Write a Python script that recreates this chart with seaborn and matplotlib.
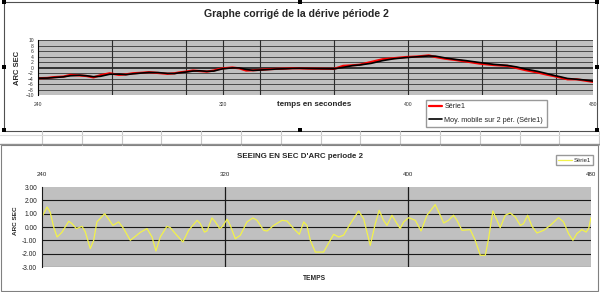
import matplotlib
matplotlib.use("Agg")
import matplotlib.pyplot as plt
from matplotlib.patches import Rectangle
from matplotlib.lines import Line2D
import numpy as np
import pandas as pd
import seaborn as sns

# derive corrigee (periode 2)
t_drift = [240, 244, 247, 251, 254, 258, 261, 264, 267, 271, 275, 278, 281, 285,
           288, 292, 296, 299, 301, 304, 307, 310, 313, 316, 318, 320, 324, 327,
           330, 333, 336, 340, 343, 347, 350, 353, 357, 362, 368, 372, 376, 379,
           384, 389, 394, 399, 404, 409, 412, 416, 420, 425, 431, 437, 443, 447,
           451, 456, 460, 463, 466, 469, 473, 476, 480]
v_drift = [-3.9, -3.8, -3.5, -3.3, -2.7, -2.9, -3.1, -3.6, -2.8, -2.1, -2.7, -2.5,
           -2.1, -1.9, -1.7, -2.0, -2.3, -2.1, -1.8, -1.5, -1.1, -1.3, -1.5, -1.1,
           -0.6, -0.3, 0.0, -0.3, -1.1, -1.0, -0.85, -0.6, -0.5, -0.4, -0.25, -0.3,
           -0.4, -0.45, -0.5, 0.6, 0.8, 1.0, 2.0, 3.0, 3.4, 3.8, 4.0, 4.4, 3.8, 3.2,
           2.8, 2.2, 1.4, 0.9, 0.6, -0.2, -1.0, -1.8, -2.6, -3.1, -3.7, -4.3, -4.3,
           -4.7, -5.2]

# seeing (periode 2)
t_seeing = [240.0, 242.2, 243.6, 245.1, 246.6, 248.7, 251.7, 253.1, 255.0, 257.5,
            258.9, 261.1, 262.6, 264.0, 267.4, 269.1, 271.0, 273.5, 275.7, 278.6,
            283.0, 285.9, 288.1, 289.8, 291.7, 294.6, 296.1, 298.3, 301.6, 304.1,
            307.8, 309.2, 311.0, 312.1, 314.3, 315.8, 317.7, 318.7, 320.9, 322.3,
            324.5, 326.7, 329.6, 332.2, 334.0, 336.9, 338.4, 341.3, 344.9, 347.1,
            350.0, 352.5, 354.4, 355.8, 357.3, 359.5, 363.1, 366.0, 367.5, 369.7,
            371.8, 374.8, 378.4, 380.6, 383.5, 385.7, 387.4, 389.3, 390.8, 393.0,
            395.2, 396.6, 398.1, 400.3, 403.2, 405.7, 408.3, 411.9, 414.1, 415.6,
            417.7, 419.9, 421.4, 423.6, 427.2, 429.4, 431.6, 433.8, 435.2, 437.1,
            438.9, 440.3, 442.5, 444.7, 446.9, 449.1, 450.5, 452.3, 454.2, 456.4,
            459.3, 462.2, 465.8, 468.0, 470.2, 472.1, 473.8, 476.0, 477.9, 479.0,
            480.0]
v_seeing = [0.75, 1.5, 1.1, 0.0, -0.75, -0.4, 0.43, 0.25, -0.12, 0.05,
            -0.35, -1.62, -1.0, 0.38, 1.0, 0.6, 0.12, 0.38, -0.12, -1.0,
            -0.4, -0.12, -0.75, -1.8, -0.75, 0.05, -0.05, -0.5, -1.12, -0.25,
            0.5, 0.25, -0.38, -0.3, 0.68, 0.38, -0.12, 0.0, 0.58, 0.12,
            -0.88, -0.62, 0.38, 0.68, 0.5, -0.25, -0.3, 0.12, 0.5, 0.45,
            -0.12, -0.55, 0.38, 0.12, -1.0, -1.88, -1.88, -1.0, -0.55, -0.75,
            -0.62, 0.25, 1.2, 0.62, -1.38, 0.25, 1.25, 0.5, 0.12, 0.88,
            0.25, -0.12, 0.38, 0.7, 0.5, -0.3, 0.88, 1.68, 0.88, 0.3,
            0.5, 0.88, 0.5, -0.25, -0.2, -1.0, -2.12, -2.12, -0.88, 1.2,
            0.5, -0.05, 0.88, 1.05, 0.75, 0.12, 0.25, 0.88, 0.05, -0.45,
            -0.25, 0.12, 0.7, 0.38, -0.5, -1.0, -0.5, -0.2, -0.38, -0.1,
            0.7]

drift_xticks = [240, 320, 400, 480]
drift_vlines = [272, 304, 320, 336, 368, 400, 432, 464]
seeing_xticks = [240, 320, 400, 480]
seeing_vlines = [320, 400]

drift = pd.DataFrame({"t": t_drift, "v": v_drift})
drift["ma"] = drift["v"].rolling(2, min_periods=1).mean()
seeing = pd.DataFrame({"t": t_seeing, "v": v_seeing})

sns.set_style("white")
plt.rcParams["font.family"] = ["Liberation Sans", "DejaVu Sans"]

W, H = 600, 292
fig = plt.figure(figsize=(6, 2.92), dpi=100)


def box(x0, y0, x1, y1):
    return [x0 / W, 1 - y1 / H, (x1 - x0) / W, (y1 - y0) / H]


# spreadsheet cells between the two charts
for k in range(16):
    xc = (42 + 39.8 * k) / W
    fig.add_artist(Line2D([xc, xc], [1 - 145 / H, 1 - 131 / H], color="#c8c8c8", lw=0.8))
fig.add_artist(Line2D([0, 1], [1 - 134.5 / H] * 2, color="#dadada", lw=0.8))
fig.add_artist(Line2D([0, 1], [1 - 144 / H] * 2, color="#909090", lw=1.0))

# chart frames
b = box(4, 2, 597, 131)
fig.add_artist(Rectangle((b[0], b[1]), b[2], b[3], transform=fig.transFigure,
                         facecolor="white", edgecolor="#505050", lw=0.8, zorder=0))
b = box(1, 145, 598, 291)
fig.add_artist(Rectangle((b[0], b[1]), b[2], b[3], transform=fig.transFigure,
                         facecolor="white", edgecolor="#808080", lw=0.8, zorder=0))

# ---- top chart ----
ax1 = fig.add_axes(box(38, 40, 593, 95))
ax1.set_facecolor("#c0c0c0")
sns.lineplot(data=drift, x="t", y="v", ax=ax1, color="red", lw=1.6, label="Série1")
sns.lineplot(data=drift, x="t", y="ma", ax=ax1, color="black", lw=1.2,
             label="Moy. mobile sur 2 pér. (Série1)")
h1, l1 = ax1.get_legend_handles_labels()
if ax1.get_legend():
    ax1.get_legend().remove()
ax1.set_xlim(240, 480)
ax1.set_ylim(-10, 10)
for yv in range(-10, 11, 2):
    ax1.axhline(yv, color="#1a1a1a", lw=1.2 if yv == 0 else 0.5, zorder=1)
for xv in drift_vlines:
    ax1.axvline(xv, color="#2a2a2a", lw=0.8, zorder=1)
ax1.set_yticks(range(-10, 11, 2))
ax1.set_xticks(drift_xticks)
ax1.tick_params(axis="y", labelsize=3.6, length=2, width=0.5, pad=1, colors="#333333")
ax1.tick_params(axis="x", labelsize=3.6, length=0, pad=5, colors="#333333")
ax1.set_xlabel("")
ax1.set_ylabel("")
for s in ["top", "right", "bottom"]:
    ax1.spines[s].set_visible(False)
ax1.spines["left"].set_color("black")
ax1.spines["left"].set_linewidth(0.8)

fig.text(296 / W, 1 - 14 / H, "Graphe corrigé de la dérive période 2",
         ha="center", va="center", fontsize=7.6, fontweight="bold")
fig.text(314 / W, 1 - 105 / H, "temps en secondes", ha="center", va="center",
         fontsize=5.8, fontweight="bold")
fig.text(17.5 / W, 1 - 68 / H, "ARC SEC", ha="center", va="center", rotation=90,
         fontsize=5.5, fontweight="bold")
fig.legend(h1, l1, loc="upper left", bbox_to_anchor=(422 / W, 1 - 96 / H),
           fontsize=5.2, frameon=True, fancybox=False, edgecolor="#808080",
           handlelength=1.8, labelspacing=0.9, borderpad=0.5, handletextpad=0.3)

# ---- bottom chart ----
ax2 = fig.add_axes(box(42, 187, 591, 267))
ax2.set_facecolor("#c0c0c0")
sns.lineplot(data=seeing, x="t", y="v", ax=ax2, color="#f2f24a", lw=0.9, label="Série1")
h2, l2 = ax2.get_legend_handles_labels()
if ax2.get_legend():
    ax2.get_legend().remove()
ax2.set_xlim(240, 480)
ax2.set_ylim(-3, 3)
for yv in range(-3, 3):
    ax2.axhline(yv, color="#1a1a1a", lw=0.8, zorder=1)
for xv in seeing_vlines:
    ax2.axvline(xv, color="#1a1a1a", lw=0.9, zorder=1)
ax2.set_yticks(range(-3, 4))
ax2.set_yticklabels([f"{v:.2f}" for v in range(-3, 4)])
ax2.set_xticks(seeing_xticks)
ax2.xaxis.tick_top()
ax2.tick_params(axis="y", labelsize=4.8, length=2, width=0.5, pad=1.5, colors="#222222")
ax2.tick_params(axis="x", labelsize=4.4, length=0, pad=7, colors="#222222")
ax2.set_xlabel("")
ax2.set_ylabel("")
for s in ["top", "right", "bottom"]:
    ax2.spines[s].set_visible(False)
ax2.spines["left"].set_color("#1a1a1a")
ax2.spines["left"].set_linewidth(0.8)

fig.text(300 / W, 1 - 157 / H, "SEEING EN SEC D'ARC periode 2", ha="center",
         va="center", fontsize=5.7, fontweight="bold")
fig.text(315 / W, 1 - 278 / H, "TEMPS", ha="center", va="center", fontsize=4.8,
         fontweight="bold")
fig.text(15.5 / W, 1 - 221 / H, "ARC SEC", ha="center", va="center", rotation=90,
         fontsize=4.6, fontweight="bold")
fig.legend(h2, l2, loc="upper right", bbox_to_anchor=(596 / W, 1 - 152.5 / H),
           fontsize=4.2, frameon=True, fancybox=False, edgecolor="#808080",
           handlelength=2.4, borderpad=0.35, handletextpad=0.3)

# selection handles of the top chart
for hx in (4, 300, 597):
    for hy in (2, 67, 130):
        if hx == 300 and hy == 67:
            continue
        hb = box(hx - 2, hy - 2, hx + 2, hy + 2)
        fig.add_artist(Rectangle((hb[0], hb[1]), hb[2], hb[3], transform=fig.transFigure,
                                 facecolor="black", edgecolor="none", zorder=10))

fig.savefig("out.png", dpi=100)
